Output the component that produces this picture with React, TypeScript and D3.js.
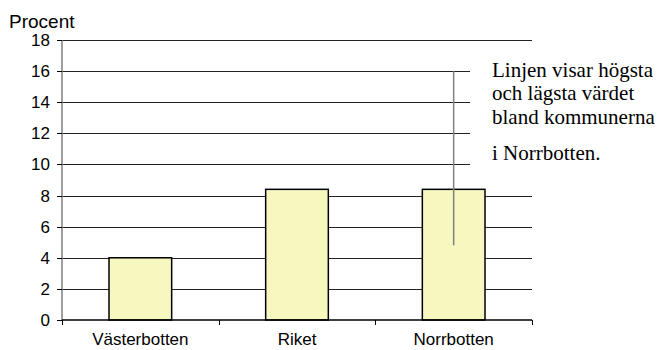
import React from "react";
import * as d3 from "d3";

const categories = ["Västerbotten", "Riket", "Norrbotten"];
const values = [4.0, 8.4, 8.4];
const rangeCategory = "Norrbotten";
const rangeMin = 4.8;
const rangeMax = 16;
const yTicks = [0, 2, 4, 6, 8, 10, 12, 14, 16, 18];
const noteLines = ["Linjen visar högsta", "och lägsta värdet", "bland kommunerna", "i Norrbotten."];

export default function App() {
    const ref = React.useRef<SVGSVGElement>(null);
    const width = 661;
    const height = 350;

    React.useEffect(() => {
        const marginLeft = 62;
        const marginRight = 129;
        const marginTop = 40;
        const marginBottom = 30;

        const svg = d3.select(ref.current);
        svg.selectAll("*").remove();

        const x = d3
            .scaleBand()
            .domain(categories)
            .range([marginLeft, width - marginRight]);

        const y = d3
            .scaleLinear()
            .domain([0, 18])
            .range([height - marginBottom, marginTop]);

        const font = "'Liberation Sans', Arial, sans-serif";

        // gridlines
        svg.append("g")
            .selectAll()
            .data(yTicks.filter((t) => t > 0))
            .join("line")
            .attr("x1", marginLeft)
            .attr("x2", width - marginRight)
            .attr("y1", (d) => Math.round(y(d)) + 0.5)
            .attr("y2", (d) => Math.round(y(d)) + 0.5)
            .attr("stroke", "#222")
            .attr("stroke-width", 1);

        // bars
        const barW = x.bandwidth() * 0.4;
        svg.append("g")
            .selectAll()
            .data(values)
            .join("rect")
            .attr("x", (d, i) => x(categories[i])! + (x.bandwidth() - barW) / 2)
            .attr("y", (d) => y(d))
            .attr("width", barW)
            .attr("height", (d) => y(0) - y(d))
            .attr("fill", "#f7f7c0")
            .attr("stroke", "#000")
            .attr("stroke-width", 1.5);

        // min-max line
        const cx = x(rangeCategory)! + x.bandwidth() / 2;
        svg.append("line")
            .attr("x1", cx)
            .attr("x2", cx)
            .attr("y1", y(rangeMax))
            .attr("y2", y(rangeMin))
            .attr("stroke", "#808080")
            .attr("stroke-width", 1.5);

        // y axis
        const yAxis = svg.append("g");
        yAxis.append("line")
            .attr("x1", marginLeft)
            .attr("x2", marginLeft)
            .attr("y1", y(18))
            .attr("y2", y(0))
            .attr("stroke", "#808080")
            .attr("stroke-width", 1.5);
        yAxis.selectAll(".tk")
            .data(yTicks)
            .join("line")
            .attr("x1", marginLeft - 5)
            .attr("x2", marginLeft)
            .attr("y1", (d) => Math.round(y(d)) + 0.5)
            .attr("y2", (d) => Math.round(y(d)) + 0.5)
            .attr("stroke", "#000");
        yAxis.selectAll("text")
            .data(yTicks)
            .join("text")
            .attr("x", 50)
            .attr("y", (d) => y(d) + 6)
            .attr("text-anchor", "end")
            .attr("font-family", font)
            .attr("font-size", 17)
            .attr("fill", "#000")
            .text((d) => d);

        // x axis
        const xAxis = svg.append("g");
        xAxis.append("line")
            .attr("x1", marginLeft)
            .attr("x2", width - marginRight)
            .attr("y1", y(0))
            .attr("y2", y(0))
            .attr("stroke", "#000")
            .attr("stroke-width", 1.5);
        const edges = categories.map((c) => x(c)!).concat([width - marginRight]);
        xAxis.selectAll(".tk")
            .data(edges)
            .join("line")
            .attr("x1", (d) => Math.round(d) + 0.5)
            .attr("x2", (d) => Math.round(d) + 0.5)
            .attr("y1", y(0))
            .attr("y2", y(0) + 5)
            .attr("stroke", "#000");
        xAxis.selectAll("text")
            .data(categories)
            .join("text")
            .attr("x", (d) => x(d)! + x.bandwidth() / 2)
            .attr("y", 345)
            .attr("text-anchor", "middle")
            .attr("font-family", font)
            .attr("font-size", 17)
            .attr("fill", "#000")
            .text((d) => d);

        // axis title
        svg.append("text")
            .attr("x", 9)
            .attr("y", 28)
            .attr("font-family", font)
            .attr("font-size", 19)
            .attr("fill", "#000")
            .text("Procent");

        // note box (white background covers gridlines)
        svg.append("rect")
            .attr("x", 470)
            .attr("y", 52)
            .attr("width", width - 470)
            .attr("height", 122)
            .attr("fill", "#fff");
        svg.append("g")
            .selectAll("text")
            .data(noteLines)
            .join("text")
            .attr("x", 492)
            .attr("y", (d, i) => (i < 3 ? 77 + i * 23.3 : 160))
            .attr("font-family", "'Liberation Serif', 'Times New Roman', serif")
            .attr("font-size", 21)
            .attr("fill", "#000")
            .text((d) => d);
    }, []);

    return (
        <svg
            ref={ref}
            width={width}
            height={height}
            style={{ position: "absolute", left: 0, top: 0, background: "#fff" }}
        ></svg>
    );
}
